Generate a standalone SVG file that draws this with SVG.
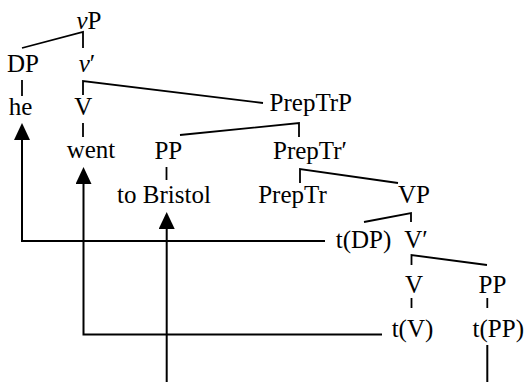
<svg xmlns="http://www.w3.org/2000/svg" width="527" height="382" viewBox="0 0 527 382">
<defs>
<style>
text{font-family:"Liberation Serif","Times New Roman",serif;font-size:25px;fill:#000;text-anchor:middle}
.it{font-style:italic}
.edge{fill:none;stroke:#000;stroke-width:1.8}
.mv{fill:none;stroke:#000;stroke-width:2}
</style>
<marker id="ah" viewBox="0 0 17 16" refX="0" refY="8" markerWidth="17" markerHeight="16" markerUnits="userSpaceOnUse" orient="auto">
<path d="M0,0 L17,8 L0,16 Z" fill="#000"/>
</marker>
</defs>
<rect width="527" height="382" fill="#fff"/>
<g id="connectors">
<path class="edge" d="M22,48 L83,32 L83,48"/>
<path class="edge" d="M22,80 V96"/>
<path class="edge" d="M263,103 L83,81 V95"/>
<path class="edge" d="M83,123 V137"/>
<path class="edge" d="M180,135 L299,123 V137"/>
<path class="edge" d="M166.5,167 V180"/>
<path class="edge" d="M300,183 V169 L398,183"/>
<path class="edge" d="M364,222 L411,213 V222"/>
<path class="edge" d="M411.5,265 V255 L487,265"/>
<path class="edge" d="M411.5,298 V308"/>
<path class="edge" d="M487.3,298 V308"/>
<path class="mv" d="M325,241 H22 V140" marker-end="url(#ah)"/>
<path class="mv" d="M382,334.5 H83.5 V184" marker-end="url(#ah)"/>
<path class="mv" d="M166.7,382 V229" marker-end="url(#ah)"/>
<path class="mv" d="M487.3,345 V382"/>
</g>
<g id="n-vP"><text x="89" y="29"><tspan class="it">v</tspan>P</text></g>
<g id="n-DP"><text x="23" y="72">DP</text></g>
<g id="n-vbar"><text x="87" y="72"><tspan class="it">v</tspan>′</text></g>
<g id="n-he"><text x="20.5" y="115">he</text></g>
<g id="n-V1"><text x="83.3" y="115">V</text></g>
<g id="n-PrepTrP"><text x="310.8" y="111">PrepTrP</text></g>
<g id="n-went"><text x="91" y="158">went</text></g>
<g id="n-PP1"><text x="168.3" y="159">PP</text></g>
<g id="n-PrepTrbar"><text x="310" y="159">PrepTr′</text></g>
<g id="n-toBristol"><text x="164" y="203">to Bristol</text></g>
<g id="n-PrepTr"><text x="292.5" y="203">PrepTr</text></g>
<g id="n-VP"><text x="414" y="203">VP</text></g>
<g id="n-tDP"><text x="363.5" y="248">t(DP)</text></g>
<g id="n-Vbar"><text x="416" y="248">V′</text></g>
<g id="n-V2"><text x="414" y="293">V</text></g>
<g id="n-PP2"><text x="492.5" y="293">PP</text></g>
<g id="n-tV"><text x="412.5" y="337">t(V)</text></g>
<g id="n-tPP"><text x="498.3" y="337">t(PP)</text></g>
</svg>
